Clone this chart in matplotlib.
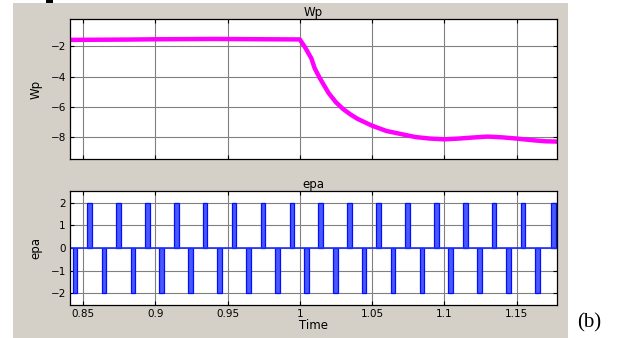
import numpy as np
import matplotlib.pyplot as plt
from matplotlib.patches import Rectangle

# Wp trace (time, value)
wp_t = [0.841, 0.86, 0.88, 0.90, 0.92, 0.94, 0.96, 0.98, 1.000, 1.0035, 1.008,
        1.0103, 1.0138, 1.02, 1.025, 1.03, 1.035, 1.04, 1.05, 1.06, 1.07, 1.08,
        1.09, 1.10, 1.11, 1.12, 1.13, 1.14, 1.15, 1.16, 1.17, 1.178]
wp_v = [-1.58, -1.57, -1.56, -1.54, -1.53, -1.52, -1.53, -1.54, -1.55, -2.05, -2.8,
        -3.45, -4.1, -5.1, -5.7, -6.15, -6.5, -6.8, -7.25, -7.6, -7.8, -8.0,
        -8.1, -8.15, -8.1, -8.03, -7.97, -8.02, -8.1, -8.2, -8.28, -8.3]

# epa pulse bundles: centre times and levels
epa_neg_t = [0.8445, 0.8645, 0.8845, 0.9045, 0.9245, 0.9445, 0.9645, 0.9845,
             1.0045, 1.0245, 1.0445, 1.0645, 1.0845, 1.1045, 1.1245, 1.1445, 1.1645]
epa_pos_t = [0.8545, 0.8745, 0.8945, 0.9145, 0.9345, 0.9545, 0.9745, 0.9945,
             1.0145, 1.0345, 1.0545, 1.0745, 1.0945, 1.1145, 1.1345, 1.1545, 1.1755]
pulse_w = 0.0032

xticks = [0.85, 0.9, 0.95, 1.0, 1.05, 1.1, 1.15]
xlabels = ['0.85', '0.9', '0.95', '1', '1.05', '1.1', '1.15']

plt.rcParams['font.family'] = ['DejaVu Sans']
fig = plt.figure(figsize=(6.21, 3.38), dpi=100)
fig.patches.append(Rectangle((0.0209, 0), 0.8938, 0.991, transform=fig.transFigure,
                             facecolor='#d4d0c8', edgecolor='none', zorder=-10))
# bits of the page above the scope window
fig.patches.append(Rectangle((0.074, 0.991), 0.012, 0.009, transform=fig.transFigure,
                             facecolor='black', edgecolor='none'))

ax1 = fig.add_axes([0.1127, 0.5296, 0.7843, 0.4142])
ax2 = fig.add_axes([0.1127, 0.0976, 0.7843, 0.3373])

for ax in (ax1, ax2):
    ax.set_facecolor('white')
    ax.set_xlim(0.841, 1.178)
    ax.set_xticks(xticks)
    ax.grid(True, color='#808080', lw=0.8)
    ax.set_axisbelow(True)
    ax.tick_params(direction='in', top=True, right=True, length=3, labelsize=7.5,
                   colors='black', pad=3)
    for s in ax.spines.values():
        s.set_color('black')
        s.set_linewidth(0.9)

ax1.plot(wp_t, wp_v, color='#ff00ff', lw=3.2, solid_joinstyle='round')
ax1.set_ylim(-9.45, -0.2)
ax1.set_yticks([-2, -4, -6, -8])
ax1.set_xticklabels([])
ax1.set_title('Wp', fontsize=8.5, pad=2)
ax1.set_ylabel('Wp', fontsize=8.5, labelpad=6)

ax2.plot([0.841, 1.178], [0, 0], color='#2030ff', lw=1.2)
ax2.bar(epa_neg_t, [-2] * len(epa_neg_t), width=pulse_w, color='#4a58ff',
        edgecolor='#0010ff', lw=0.9)
ax2.bar(epa_pos_t, [2] * len(epa_pos_t), width=pulse_w, color='#4a58ff',
        edgecolor='#0010ff', lw=0.9)
ax2.set_ylim(-2.52, 2.52)
ax2.set_yticks([-2, -1, 0, 1, 2])
ax2.set_xticklabels(xlabels)
ax2.set_title('epa', fontsize=8.5, pad=2)
ax2.set_ylabel('epa', fontsize=8.5, labelpad=6)
ax2.set_xlabel('Time', fontsize=8.5, labelpad=0)

fig.text(0.929, 0.03, '(b)', fontsize=15, family='Liberation Serif', color='black')

fig.savefig('out.png', dpi=100)
